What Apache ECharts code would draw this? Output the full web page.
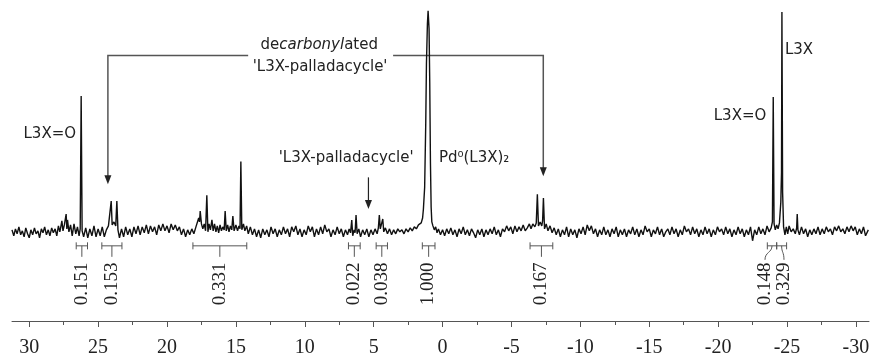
<!DOCTYPE html>
<html>
<head>
<meta charset="utf-8">
<script src="https://cdn.jsdelivr.net/npm/echarts@6/dist/echarts.min.js"></script>
<style>
html,body{margin:0;padding:0;background:#fff;}
#chart{width:873px;height:358px;}
</style>
</head>
<body>
<div id="chart"></div>
<script>
// ---- Data (chemical shift in ppm, intensity in arbitrary units above baseline) ----
const ppmTicks = [30, 25, 20, 15, 10, 5, 0, -5, -10, -15, -20, -25, -30];
const ppmMinorTicks = [27.5, 22.5, 17.5, 12.5, 7.5, 2.5, -2.5, -7.5, -12.5, -17.5, -22.5, -27.5];

const spectrum = [
[31.25,2],[31.12,-4],[31.0,3],[30.88,-2],[30.75,5],[30.62,-3],[30.5,1],[30.37,-5],[30.25,4],[30.12,-2],[30.0,-6],[29.88,2],[29.75,-3],[29.62,4],[29.5,-2],[29.37,1],[29.25,-6],[29.12,3],
[29.0,-1],[28.88,5],[28.75,-3],[28.62,2],[28.5,-4],[28.37,4],[28.25,-1],[28.12,3],[28.0,-4],[27.88,6],
[27.78,0],[27.72,4],[27.63,11],[27.55,1],[27.45,7],[27.32,18],[27.27,3],[27.22,12],[27.12,0],[27.0,7],[26.88,-4],[26.75,8],[26.62,-2],[26.5,5],[26.38,-4],[26.3,3],[26.23,137],[26.16,1],
[26.05,-5],[25.9,4],[25.75,-6],[25.6,3],[25.45,-4],[25.3,6],[25.15,-5],[25.0,3],[24.85,-4],[24.7,5],[24.55,-5],[24.4,2],[24.25,6],[24.12,4],[24.05,31],[23.98,7],[23.85,10],[23.72,6],[23.64,31],[23.56,2],
[23.45,-6],[23.3,3],[23.15,-5],[23.0,5],[22.85,-3],[22.7,3],[22.55,-5],[22.4,5],[22.25,-2],[22.1,6],[21.95,-3],[21.8,5],[21.65,-1],[21.5,7],[21.35,-2],[21.2,6],[21.05,0],[20.9,5],[20.75,-3],
[20.6,7],[20.45,1],[20.3,8],[20.15,1],[20.0,6],[19.85,-1],[19.7,8],[19.55,2],[19.4,7],[19.25,1],[19.1,5],[18.95,-3],[18.8,3],[18.65,-5],[18.5,2],[18.35,-3],[18.2,3],[18.05,-2],[17.9,5],
[17.78,7],[17.7,14],[17.64,10],[17.59,21],[17.5,8],[17.4,3],[17.3,8],[17.2,1],[17.11,37],[17.03,0],[16.95,8],[16.85,2],[16.74,12],[16.65,1],[16.55,8],[16.45,0],[16.35,6],[16.25,-1],[16.15,7],
[16.05,1],[15.95,5],[15.85,2],[15.78,21],[15.7,1],[15.6,7],[15.5,0],[15.4,6],[15.3,2],[15.22,16],[15.13,1],[15.0,7],[14.88,1],[14.78,6],[14.7,3],[14.64,71],[14.57,2],[14.45,8],[14.35,1],[14.22,6],
[14.1,-2],[13.95,5],[13.8,-3],[13.65,3],[13.5,-5],[13.35,2],[13.2,-6],[13.05,3],[12.9,-3],[12.75,2],[12.6,-5],[12.45,5],[12.3,-2],[12.15,3],[12.0,-5],[11.85,2],[11.7,-3],[11.55,5],[11.4,-2],
[11.25,3],[11.1,-5],[10.95,5],[10.8,0],[10.65,6],[10.5,-3],[10.35,3],[10.2,-5],[10.05,2],[9.9,-3],[9.75,6],[9.6,0],[9.45,5],[9.3,-5],[9.15,3],[9.0,-3],[8.85,5],[8.7,-2],[8.55,7],[8.4,0],
[8.25,3],[8.1,-5],[7.95,2],[7.8,-3],[7.65,5],[7.5,-2],[7.35,3],[7.2,-5],[7.05,2],[6.9,-3],[6.78,3],[6.68,-1],[6.59,12],[6.52,-4],[6.42,2],[6.35,-1],[6.28,17],[6.2,-2],[6.08,3],[5.95,-5],
[5.8,2],[5.65,-3],[5.5,3],[5.35,-5],[5.2,2],[5.05,-3],[4.9,3],[4.75,-2],[4.66,4],[4.59,17],[4.52,3],[4.43,5],[4.34,13],[4.27,0],[4.15,4],[4.0,-2],[3.85,3],[3.7,-3],[3.55,2],[3.4,-2],
[3.25,3],[3.1,0],[2.95,2],[2.8,-2],[2.65,3],[2.5,0],[2.35,4],[2.2,1],[2.05,5],[1.9,3],[1.75,7],[1.62,6],[1.55,9],[1.45,14],[1.39,23],[1.3,45],[1.22,110],[1.17,170],[1.1,210],[1.05,223],
[0.98,205],[0.93,150],[0.88,70],[0.83,25],[0.78,10],[0.7,6],[0.6,2],[0.5,5],[0.4,-1],[0.3,3],[0.15,-3],[0.0,2],[-0.15,-4],[-0.3,3],
[-0.45,-2],[-0.6,4],[-0.75,-3],[-0.9,2],[-1.05,-5],[-1.2,3],[-1.35,-2],[-1.5,5],[-1.65,-3],[-1.8,2],[-1.95,-4],[-2.1,3],[-2.25,-1],[-2.4,-6],[-2.55,2],[-2.7,-3],[-2.85,3],[-3.0,-5],
[-3.15,2],[-3.3,-3],[-3.45,3],[-3.6,-2],[-3.75,5],[-3.9,-3],[-4.05,2],[-4.2,-5],[-4.35,3],[-4.5,0],[-4.65,6],[-4.8,1],[-4.95,5],[-5.1,-2],[-5.25,6],[-5.4,0],[-5.55,5],[-5.7,1],[-5.85,7],
[-6.0,1],[-6.15,4],[-6.3,8],[-6.42,3],[-6.55,8],[-6.7,5],[-6.8,9],[-6.88,38],[-6.96,6],[-7.08,10],[-7.2,6],[-7.26,11],[-7.32,34],[-7.4,3],[-7.52,8],[-7.65,1],[-7.8,6],[-7.95,-1],[-8.1,4],
[-8.25,-3],[-8.4,3],[-8.55,-5],[-8.7,2],[-8.85,-3],
[-9.0,5],[-9.15,-5],[-9.3,3],[-9.45,-3],[-9.6,2],[-9.75,-6],[-9.9,3],[-10.05,-2],[-10.2,5],[-10.35,-3],[-10.5,7],[-10.65,1],[-10.8,6],[-10.95,-2],[-11.1,3],[-11.25,-5],[-11.4,2],[-11.55,-3],
[-11.7,5],[-11.85,-3],[-12.0,2],[-12.15,-5],[-12.3,3],[-12.45,-2],[-12.6,5],[-12.75,-5],[-12.9,2],[-13.05,-3],[-13.2,3],[-13.35,-5],[-13.5,2],[-13.65,-2],[-13.8,5],[-13.95,-3],[-14.1,3],
[-14.25,-5],[-14.4,2],[-14.55,-3],[-14.7,6],[-14.85,0],[-15.0,3],[-15.15,-5],[-15.3,2],[-15.45,-2],[-15.6,5],[-15.75,-3],[-15.9,3],[-16.05,-5],[-16.2,0],[-16.35,3],[-16.5,-3],[-16.65,5],
[-16.8,-2],[-16.95,3],[-17.1,-5],[-17.25,2],[-17.4,-3],[-17.55,6],[-17.7,0],[-17.85,3],[-18.0,-3],[-18.15,5],[-18.3,-2],[-18.45,3],[-18.6,-5],[-18.75,2],[-18.9,-3],[-19.05,5],[-19.2,-2],
[-19.35,3],[-19.5,-5],[-19.65,2],[-19.8,-3],[-19.95,5],[-20.1,0],[-20.25,3],[-20.4,-3],[-20.55,5],[-20.7,-2],[-20.85,3],[-21.0,-5],[-21.15,2],[-21.3,-3],[-21.45,5],[-21.6,-2],[-21.75,3],
[-21.9,-5],[-22.05,2],[-22.2,-3],[-22.35,5],[-22.5,-9],[-22.65,2],[-22.8,-3],[-22.95,5],[-23.1,-2],[-23.25,3],[-23.4,-3],[-23.55,6],[-23.7,0],[-23.85,4],[-23.94,10],[-24.0,136],[-24.06,8],
[-24.15,2],[-24.25,7],[-24.35,3],[-24.45,9],[-24.55,30],[-24.6,60],[-24.63,222],[-24.68,40],[-24.75,5],[-24.85,-3],[-24.95,5],[-25.05,-2],[-25.15,6],[-25.3,0],[-25.45,3],[-25.6,-2],[-25.7,4],
[-25.74,18],[-25.79,2],[-25.9,-3],[-26.05,5],[-26.2,-2],[-26.35,3],[-26.5,-5],[-26.65,2],[-26.8,-3],[-26.95,3],[-27.1,-2],[-27.25,5],[-27.4,-3],[-27.55,3],[-27.7,-2],[-27.85,5],[-28.0,0],
[-28.15,3],[-28.3,-3],[-28.45,5],[-28.6,1],[-28.75,6],[-28.9,0],[-29.05,3],[-29.2,-2],[-29.35,5],[-29.5,0],[-29.65,6],[-29.8,1],[-29.95,5],[-30.1,-3],[-30.25,3],[-30.4,-2],[-30.55,5],[-30.7,-4],[-30.9,2]
];

// Integration regions (ppm)
const integralFrom = [26.59, 24.73, 18.12, 6.83, 4.82, 1.47, -6.35, -23.57, -24.25];
const integralTo = [25.77, 23.27, 14.21, 5.98, 4.00, 0.55, -8.00, -24.25, -24.97];
const integralValues = ['0.151', '0.153', '0.331', '0.022', '0.038', '1.000', '0.167', '0.148', '0.329'];
const integralLabelAt = [26.18, 24.00, 16.14, 6.42, 4.41, 1.03, -7.12, -23.40, -24.78];

// ---- Chart ----
const chart = echarts.init(document.getElementById('chart'), null, {renderer: 'canvas'});
const SERIF = '"Liberation Serif", "DejaVu Serif", serif';
const SANS = '"DejaVu Sans", sans-serif';
const X_MIN = -30.95, X_MAX = 31.25;

const integralData = integralFrom.map((f, i) => [f, integralTo[i], integralLabelAt[i], 0]);

function renderIntegral(params, api) {
  const i = params.dataIndex;
  const a = api.coord([api.value(0), 0]);
  const b = api.coord([api.value(1), 0]);
  const lab = api.coord([api.value(2), 0]);
  const base = a[1];
  const by = base + 14;
  const cx = (a[0] + b[0]) / 2;
  const st = {stroke: '#555', lineWidth: 1, fill: null};
  const ch = [
    {type: 'line', shape: {x1: a[0], y1: by, x2: b[0], y2: by}, style: st},
    {type: 'line', shape: {x1: a[0], y1: by - 3.5, x2: a[0], y2: by + 3.5}, style: st},
    {type: 'line', shape: {x1: b[0], y1: by - 3.5, x2: b[0], y2: by + 3.5}, style: st}
  ];
  if (Math.abs(lab[0] - cx) < 2) {
    ch.push({type: 'line', shape: {x1: cx, y1: by, x2: cx, y2: by + 11}, style: st});
  } else {
    ch.push({type: 'bezierCurve', shape: {x1: cx, y1: by, cpx1: cx, cpy1: by + 7, cpx2: lab[0], cpy2: by + 6, x2: lab[0], y2: by + 14}, style: st});
  }
  ch.push({
    type: 'text', x: lab[0], y: base + 52, rotation: Math.PI / 2,
    style: {text: integralValues[i], font: '19px ' + SERIF, fill: '#222', align: 'center', verticalAlign: 'middle'}
  });
  return {type: 'group', children: ch};
}

function arrowDown(x, tipY, color) {
  return {type: 'polygon', shape: {points: [[x, tipY], [x - 3.5, tipY - 9], [x + 3.5, tipY - 9]]}, style: {fill: color}};
}

function renderAnnotations(params, api) {
  const P = (p, v) => api.coord([p, v]);
  const lineSt = {stroke: '#555', lineWidth: 1.5, fill: null};
  const txt = (p, v, text, extra) => {
    const c = P(p, v);
    return {type: 'text', x: c[0], y: c[1], style: Object.assign({text: text, font: '15px ' + SANS, fill: '#222', align: 'center', verticalAlign: 'middle'}, extra || {})};
  };
  const ch = [];
  ch.push(txt(28.51, 99, 'L3X=O'));
  const d1 = P(8.95, 188);
  ch.push({type: 'text', x: d1[0], y: d1[1], style: {
    text: '{n|de}{i|carbonyl}{n|ated}', align: 'center', verticalAlign: 'middle',
    rich: {n: {font: '15px ' + SANS, fill: '#222'}, i: {font: 'italic 15px ' + SANS, fill: '#222'}}
  }});
  ch.push(txt(8.89, 166, "'L3X-palladacycle'"));
  const l1 = P(14.11, 178), l2 = P(24.29, 178), l3 = P(24.29, 48);
  ch.push({type: 'polyline', shape: {points: [l1, l2, [l2[0], l3[1] - 8]]}, style: lineSt});
  ch.push(arrowDown(l2[0], l3[1], '#222'));
  const r1 = P(3.59, 178), r2 = P(-7.31, 178), r3 = P(-7.31, 56);
  ch.push({type: 'polyline', shape: {points: [r1, r2, [r2[0], r3[1] - 8]]}, style: lineSt});
  ch.push(arrowDown(r2[0], r3[1], '#222'));
  ch.push(txt(7.0, 74, "'L3X-palladacycle'"));
  const m1 = P(5.38, 55), m2 = P(5.38, 23);
  ch.push({type: 'line', shape: {x1: m1[0], y1: m1[1], x2: m2[0], y2: m2[1] - 8}, style: {stroke: '#222', lineWidth: 1.2}});
  ch.push(arrowDown(m2[0], m2[1], '#222'));
  ch.push(txt(-2.29, 74, 'Pd\u2070(L3X)\u2082'));
  ch.push(txt(-25.87, 183, 'L3X'));
  ch.push(txt(-21.59, 117, 'L3X=O'));
  return {type: 'group', children: ch};
}

const option = {
  animation: false,
  backgroundColor: '#ffffff',
  grid: {left: 12, right: 4, top: 0, bottom: 34, containLabel: false},
  xAxis: [
    {
      type: 'value', inverse: true, min: X_MIN, max: X_MAX, position: 'bottom',
      axisLine: {show: true, onZero: false, lineStyle: {color: '#555', width: 1}},
      axisTick: {show: true, length: 6, lineStyle: {color: '#555'}, customValues: ppmTicks},
      axisLabel: {show: true, customValues: ppmTicks, margin: 17, fontFamily: SERIF, fontSize: 20, color: '#222',
        formatter: v => String(v)},
      splitLine: {show: false}
    },
    {
      type: 'value', inverse: true, min: X_MIN, max: X_MAX, position: 'bottom', offset: 0,
      axisLine: {show: false, onZero: false},
      axisTick: {show: true, length: 4, lineStyle: {color: '#555'}, customValues: ppmMinorTicks},
      axisLabel: {show: false},
      splitLine: {show: false}
    }
  ],
  yAxis: {type: 'value', min: -90, max: 234, show: false, splitLine: {show: false}},
  series: [
    {
      type: 'line', data: spectrum, xAxisIndex: 0, showSymbol: false, symbol: 'none',
      lineStyle: {color: '#111', width: 1.4}, silent: true, clip: true
    },
    {
      type: 'custom', data: integralData, xAxisIndex: 0, renderItem: renderIntegral,
      encode: {x: [0, 1, 2], y: 3}, silent: true, clip: false
    },
    {
      type: 'custom', data: [[0, 0]], xAxisIndex: 0, renderItem: renderAnnotations,
      encode: {x: 0, y: 1}, silent: true, clip: false
    }
  ]
};
chart.setOption(option);
</script>
</body>
</html>
